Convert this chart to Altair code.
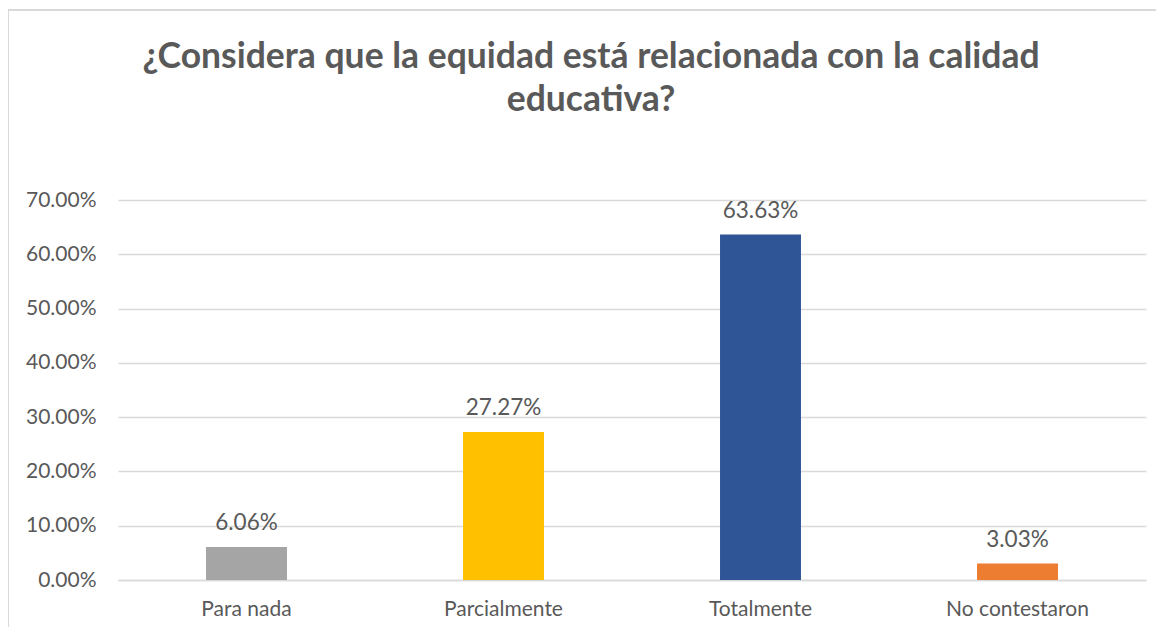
import altair as alt
import pandas as pd

categories = ["Para nada", "Parcialmente", "Totalmente", "No contestaron"]
values = [0.0606, 0.2727, 0.6363, 0.0303]
colors = ["#A5A5A5", "#FFC000", "#2F5597", "#ED7D31"]
title_lines = ["¿Considera que la equidad está relacionada con la calidad", "educativa?"]

df = pd.DataFrame({"cat": categories, "val": values})

TXT = "#595959"
GRID = "#D9D9D9"
FONT = "Lato"

base = alt.Chart(df).encode(
    x=alt.X("cat:N", sort=categories,
            scale=alt.Scale(paddingInner=0.685, paddingOuter=0.3425),
            axis=alt.Axis(title=None, labelAngle=0, labelFontSize=21, labelColor=TXT,
                          labelFont=FONT, labelPadding=18, tickSize=0, grid=False,
                          domainColor=GRID, domainWidth=1.5)),
)

bars = base.mark_bar().encode(
    y=alt.Y("val:Q", scale=alt.Scale(domain=[0, 0.7]),
            axis=alt.Axis(title=None, format=".2%", values=[0, 0.1, 0.2, 0.3, 0.4, 0.5, 0.6, 0.7],
                          labelFontSize=21, labelColor=TXT, labelFont=FONT, labelPadding=22,
                          tickSize=0, domain=False, grid=True, gridColor=GRID, gridWidth=1.5)),
    color=alt.Color("cat:N", sort=categories,
                    scale=alt.Scale(domain=categories, range=colors), legend=None),
)

labels = base.mark_text(baseline="bottom", dy=-12, fontSize=22.5, color=TXT, font=FONT).encode(
    y="val:Q",
    text=alt.Text("val:Q", format=".2%"),
)

border_left = alt.Chart(df).mark_rule(color=GRID, strokeWidth=1.5).encode(
    x=alt.value(-110), y=alt.value(-190), y2=alt.value(500))
border_top = alt.Chart(df).mark_rule(color=GRID, strokeWidth=1.5).encode(
    x=alt.value(-110), x2=alt.value(1100), y=alt.value(-190))

chart = alt.layer(bars, labels, border_left, border_top).properties(
    width=1028, height=380,
    autosize=alt.AutoSizeParams(type="none"),
    padding={"left": 110, "top": 192, "right": 10, "bottom": 47},
    title=alt.TitleParams(text=title_lines, fontSize=35.5, font=FONT, fontWeight="bold",
                          color=TXT, anchor="middle", frame="group", offset=0, dy=109,
                          dx=-41, lineHeight=43),
).configure_view(stroke=None)

chart.save("out.html", embed_options={"renderer": "svg", "actions": False})
